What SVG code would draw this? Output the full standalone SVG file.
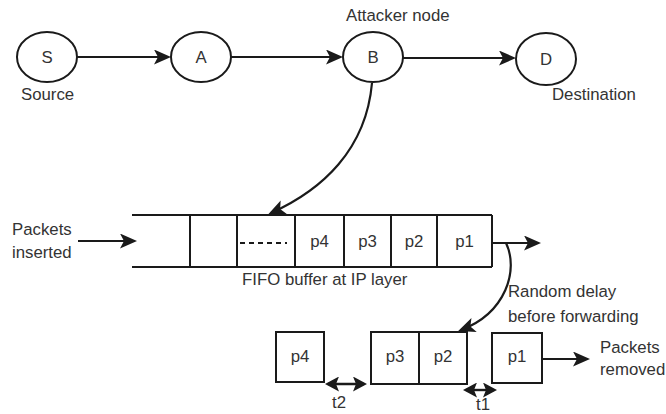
<svg xmlns="http://www.w3.org/2000/svg" width="666" height="414" viewBox="0 0 666 414">
  <defs>
    <marker id="arrow" viewBox="0 0 17 15" markerWidth="17" markerHeight="15" refX="14" refY="7.5" orient="auto-start-reverse" markerUnits="userSpaceOnUse">
      <path d="M0,0 L17,7.5 L0,15 L4,7.5 z" fill="#1a1a1a"/>
    </marker>
    <marker id="tick" viewBox="0 0 14 15" markerWidth="14" markerHeight="15" refX="11" refY="7.5" orient="auto-start-reverse" markerUnits="userSpaceOnUse">
      <path d="M0,0 L14,7.5 L0,15 L3,7.5 z" fill="#1a1a1a"/>
    </marker>
  </defs>
  <style>
    text { font-family: "Liberation Sans", Arial, sans-serif; font-size: 16.8px; fill: #333; }
    .mid { text-anchor: middle; }
    .node ellipse { fill: #fff; stroke: #1a1a1a; stroke-width: 2; }
    .edge { fill: none; stroke: #1a1a1a; stroke-width: 2.2; }
    .arr { marker-end: url(#arrow); }
    .dbl { stroke-width: 2.4; marker-start: url(#tick); marker-end: url(#tick); }
    .box { fill: #fff; stroke: #1a1a1a; stroke-width: 2; }
    .wall { stroke: #1a1a1a; stroke-width: 2; fill: none; }
  </style>
  <rect width="666" height="414" fill="#fff"/>

  <!-- network path -->
  <g id="connectors">
    <line class="edge arr" x1="77" y1="57" x2="168" y2="57"/>
    <line class="edge arr" x1="231" y1="57" x2="340" y2="57"/>
    <line class="edge arr" x1="403" y1="58" x2="513" y2="58"/>
    <!-- attacker B to its IP buffer -->
    <path class="edge arr" d="M372,83 C366,150 322,190 271,213"/>
    <!-- packets in / out of the buffer -->
    <line class="edge arr" x1="78" y1="241" x2="134" y2="241"/>
    <line class="edge arr" x1="492" y1="243" x2="538" y2="243"/>
    <!-- random delay before forwarding -->
    <path class="edge arr" d="M506,243 C519,270 506,313 461,330"/>
    <line class="edge arr" x1="542" y1="359" x2="587" y2="359"/>
    <!-- gaps between forwarded packets -->
    <line class="edge dbl" x1="328" y1="384" x2="364" y2="384"/>
    <line class="edge dbl" x1="466" y1="390" x2="494" y2="390"/>
  </g>

  <g id="node-S" class="node">
    <ellipse cx="47" cy="57" rx="30" ry="25"/>
    <text class="mid" x="47" y="63">S</text>
    <text x="21" y="100">Source</text>
  </g>
  <g id="node-A" class="node">
    <ellipse cx="201" cy="57" rx="30" ry="25"/>
    <text class="mid" x="201" y="63">A</text>
  </g>
  <g id="node-B" class="node">
    <ellipse cx="373" cy="57" rx="30" ry="25"/>
    <text class="mid" x="373" y="63">B</text>
    <text x="346" y="21">Attacker node</text>
  </g>
  <g id="node-D" class="node">
    <ellipse cx="546" cy="59" rx="30" ry="26"/>
    <text class="mid" x="546" y="65">D</text>
    <text x="552" y="100">Destination</text>
  </g>

  <!-- FIFO buffer at the IP layer -->
  <g id="buffer">
    <line class="wall" x1="132" y1="215" x2="492" y2="215"/>
    <line class="wall" x1="132" y1="267" x2="492" y2="267"/>
    <line class="wall" x1="190" y1="215" x2="190" y2="267"/>
    <line class="wall" x1="237" y1="215" x2="237" y2="267"/>
    <line class="wall" x1="295" y1="215" x2="295" y2="267"/>
    <line class="wall" x1="344" y1="215" x2="344" y2="267"/>
    <line class="wall" x1="391" y1="215" x2="391" y2="267"/>
    <line class="wall" x1="437" y1="215" x2="437" y2="267"/>
    <line class="wall" x1="492" y1="215" x2="492" y2="267"/>
    <line class="wall" x1="240" y1="243" x2="287" y2="243" stroke-dasharray="5,4"/>
    <text class="mid" x="319.5" y="247">p4</text>
    <text class="mid" x="367.5" y="247">p3</text>
    <text class="mid" x="414" y="247">p2</text>
    <text class="mid" x="464.5" y="247">p1</text>
    <text x="242" y="285">FIFO buffer at IP layer</text>
  </g>

  <g id="label-inserted">
    <text x="12" y="235">Packets</text>
    <text x="12" y="258">inserted</text>
  </g>
  <g id="label-delay">
    <text x="508" y="297">Random delay</text>
    <text x="508" y="322">before forwarding</text>
  </g>

  <!-- packets after leaving the buffer -->
  <g id="out-p4">
    <rect class="box" x="276" y="332" width="48" height="50"/>
    <text class="mid" x="300" y="362">p4</text>
  </g>
  <g id="out-p3">
    <rect class="box" x="371" y="332" width="48" height="52"/>
    <text class="mid" x="395" y="362">p3</text>
  </g>
  <g id="out-p2">
    <rect class="box" x="419" y="332" width="48" height="52"/>
    <text class="mid" x="443" y="362">p2</text>
  </g>
  <g id="out-p1">
    <rect class="box" x="492" y="333" width="50" height="50"/>
    <text class="mid" x="517" y="362">p1</text>
  </g>
  <g id="label-removed">
    <text x="600" y="353">Packets</text>
    <text x="600" y="375">removed</text>
  </g>
  <g id="label-t2">
    <text class="mid" x="339" y="408">t2</text>
  </g>
  <g id="label-t1">
    <text class="mid" x="483" y="410">t1</text>
  </g>
</svg>
